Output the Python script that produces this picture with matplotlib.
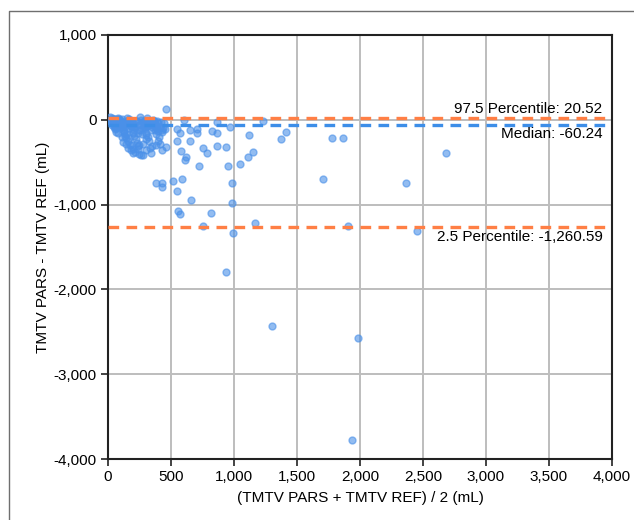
import matplotlib
matplotlib.use("Agg")
import matplotlib.pyplot as plt
from matplotlib.lines import Line2D
from matplotlib.ticker import FuncFormatter

plt.rcParams['font.family'] = ['Liberation Sans', 'DejaVu Sans']

# mean of the two methods (mL)
mean_vals = [
    # dense cluster near the origin
    20, 35, 45, 55, 60, 70, 75, 30, 50, 65, 40, 25, 80, 90, 55, 45,
    85, 95, 100, 110, 120, 130, 140, 105, 115, 125, 135, 145, 95, 110,
    150, 160, 170, 180, 190, 200, 210, 220, 230, 240, 155, 175, 195, 215,
    235, 165, 185, 205, 225, 245, 250, 200, 180, 160,
    255, 265, 275, 285, 295, 305, 315, 325, 335, 345, 260, 280, 300, 320,
    340, 270, 290, 310, 330, 250, 275, 300,
    355, 365, 375, 385, 395, 405, 415, 425, 440, 360, 380, 400, 420, 370,
    390, 410, 350, 430, 445,
    15, 28, 38, 48, 58, 68, 78, 88, 98, 108, 118, 128, 138, 148, 158, 168,
    178, 188, 198, 208, 218, 228, 238, 248, 258, 268, 278, 288, 298, 308,
    318, 328, 338, 348, 358, 368, 378, 388, 398, 60, 80, 120, 140, 170, 190,
    # sparser points
    458, 603, 429, 452, 548, 571, 651, 706, 706, 825, 865, 865, 968, 1119,
    1230, 1413, 1373, 548, 651, 754, 786, 865, 937, 579, 460, 381, 619, 611,
    722, 952, 1048, 1111, 1151, 381, 429, 429, 516, 587, 548, 659, 556, 571,
    817, 754, 984, 984, 992, 1167, 937, 1302, 1984, 1937, 1778, 1865, 1706,
    1905, 2365, 2683, 2452,
]
# difference PARS - REF (mL)
diff_vals = [
    30, 20, 10, 0, -15, -30, -50, -60, -80, -100, -40, -20, 20, -10, -110, -5,
    10, -30, -60, -90, -120, -150, -170, -40, -80, -130, -190, -220, 0, -200,
    20, -10, -40, -70, -110, -150, -190, -230, -270, -310, -250, -300, -340, -380,
    -350, 10, -60, -90, -20, -120, -400, -390, -360, -330,
    30, 0, -30, -60, -100, -150, -200, -250, -330, -390, -410, -280, -360, -40,
    -120, -170, -80, 20, -10, -300, -420, -230,
    0, -20, -50, -90, -130, -200, -290, -360, -100, -60, -170, -250, -30, -120,
    -10, -80, -310, -140, -40,
    -20, -5, -35, 15, -70, 5, -25, -45, -15, 10, -55, -30, -75, -10, -45, -95,
    -65, -30, -140, -55, -85, -20, -160, -60, -120, -45, -90, -15, -180, -70,
    -35, -60, -25, -90, -45, -20, -70, -110, -40, -140, -160, -260, -280, -220, -300,
    # sparser points
    127, -2, -120, -108, -108, -156, -120, -108, -156, -132, -156, -26, -85, -179,
    -14, -144, -226, -250, -250, -332, -391, -309, -321, -368, -321, -297, -439, -474,
    -545, -545, -521, -439, -380, -745, -745, -792, -722, -698, -840, -946, -1075, -1110,
    -1099, -1252, -745, -981, -1335, -1217, -1795, -2431, -2572, -3775, -215, -215, -698,
    -1252, -745, -392, -1310,
]

median = -60.24
p975 = 20.52
p025 = -1260.59

x_ticks = [0, 500, 1000, 1500, 2000, 2500, 3000, 3500, 4000]
y_ticks = [-4000, -3000, -2000, -1000, 0, 1000]

orange = "#ff7f45"
blue = "#3d8ee8"
dot = "#4a90e8"

fig = plt.figure(figsize=(6.34, 5.2), dpi=100)
ax = fig.add_axes([0.1703, 0.1173, 0.795, 0.8154])

# outer frame of the figure (only top and left edges are inside the picture)
x0, y0 = 9 / 634, 1 - 11 / 520
fig.lines.append(Line2D([x0, x0, 1.05], [-0.05, y0, y0], transform=fig.transFigure,
                        color="#6f6f6f", linewidth=1.0))

ax.grid(True, color="#bdbdbd", linewidth=1.4)
ax.set_axisbelow(True)

ax.scatter(mean_vals, diff_vals, s=25, color=dot, alpha=0.6,
           edgecolors=dot, linewidths=1.0, zorder=3)

dash = (0, (3.2, 2.2))
ax.axhline(p975, color=orange, linestyle=dash, linewidth=2.4, zorder=4)
ax.axhline(median, color=blue, linestyle=dash, linewidth=2.4, zorder=4)
ax.axhline(p025, color=orange, linestyle=dash, linewidth=2.4, zorder=4)

fs = 11
ax.text(3925, p975 + 30, "97.5 Percentile: 20.52", ha="right", va="bottom",
        fontsize=fs, zorder=5)
ax.text(3925, median - 30, "Median: -60.24", ha="right", va="top",
        fontsize=fs, zorder=5)
ax.text(3925, p025 - 40, "2.5 Percentile: -1,260.59", ha="right", va="top",
        fontsize=fs, zorder=5)

ax.set_xlim(0, 4000)
ax.set_ylim(-4000, 1000)
ax.set_xticks(x_ticks)
ax.set_yticks(y_ticks)
fmt = FuncFormatter(lambda v, p: f"{int(v):,}")
ax.xaxis.set_major_formatter(fmt)
ax.yaxis.set_major_formatter(fmt)
ax.tick_params(labelsize=fs, length=5, width=1.2, color="#222222", pad=3)

for s in ax.spines.values():
    s.set_linewidth(1.5)
    s.set_color("#222222")

ax.set_xlabel("(TMTV PARS + TMTV REF) / 2 (mL)", fontsize=fs, labelpad=5)
ax.set_ylabel("TMTV PARS - TMTV REF (mL)", fontsize=fs, labelpad=3)

fig.savefig("out.png", dpi=100)
